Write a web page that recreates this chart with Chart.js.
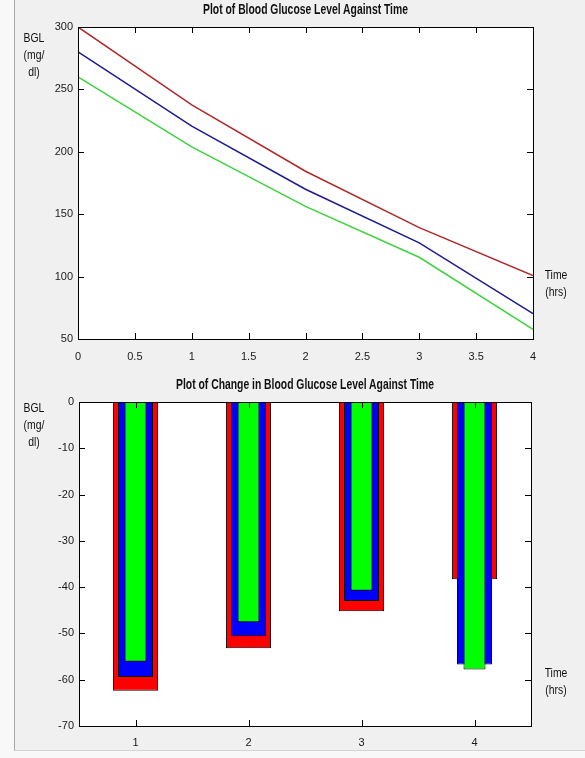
<!DOCTYPE html>
<html>
<head>
<meta charset="utf-8">
<script src="https://cdn.jsdelivr.net/npm/chart.js@4.4.1/dist/chart.umd.min.js"></script>
<style>
  body { margin: 0; background: #f8f8f8; width: 585px; height: 758px; overflow: hidden; }
  #frame { position: absolute; left: 14px; top: 0; width: 571px; height: 750px; background: #f0f0f0;
           border-left: 1px solid #a8a8a8; border-bottom: 1px solid #d4d4d4; }
  canvas { position: absolute; left: 0; }
  #top { top: 0; }
  #bottom { top: 370px; }
  .txt { position: absolute; font-family: 'Liberation Sans', Arial, sans-serif;
         font-size: 13px; color: #111; text-align: center; line-height: 17px;
         transform: scaleX(0.8); transform-origin: center; }
  .ttl { font-weight: bold; font-size: 14px; transform: scaleX(0.74); }
</style>
</head>
<body>
<div id="frame"></div>
<canvas id="top" width="585" height="370"></canvas>
<canvas id="bottom" width="585" height="388"></canvas>
<div class="txt ttl" style="left:78px;width:455px;top:1px;">Plot of Blood Glucose Level Against Time</div>
<div class="txt ttl" style="left:79px;width:452px;top:376px;">Plot of Change in Blood Glucose Level Against Time</div>
<div class="txt" style="left:18px;width:32px;top:29px;">BGL<br>(mg/<br>dl)</div>
<div class="txt" style="left:18px;width:32px;top:399px;">BGL<br>(mg/<br>dl)</div>
<div class="txt" style="left:539px;width:34px;top:266px;">Time<br>(hrs)</div>
<div class="txt" style="left:539px;width:34px;top:664px;">Time<br>(hrs)</div>
<script>
'use strict';

// top plot - blood glucose level over time
var timeHrs = [0, 1, 2, 3, 4];
var bglRed = [300, 237.6, 184.4, 139.2, 100.9];
var bglBlue = [280, 220.6, 170, 127, 70.3];
var bglGreen = [260, 203.9, 156.3, 115.5, 57.7];

// bottom plot - change in glucose level per hour
var hourLabels = ['1', '2', '3', '4'];
var changeRed = [-62.4, -53.2, -45.2, -38.3];
var changeBlue = [-59.4, -50.6, -43.0, -56.7];
var changeGreen = [-56.1, -47.6, -40.8, -57.8];

var tickFont = { family: "'Liberation Sans', Arial, sans-serif", size: 11 };

function points(ys) {
  var out = [];
  for (var i = 0; i < timeHrs.length; i++) {
    out.push({ x: timeHrs[i], y: ys[i] });
  }
  return out;
}

// white plot area, black box and inward ticks like matlab
var matlabAxes = {
  id: 'matlabAxes',
  beforeDatasetsDraw: function(chart) {
    var a = chart.chartArea;
    var ctx = chart.ctx;
    ctx.save();
    ctx.fillStyle = '#fff';
    ctx.fillRect(a.left, a.top, a.right - a.left, a.bottom - a.top);
    ctx.restore();
  },
  afterDraw: function(chart) {
    var a = chart.chartArea;
    var ctx = chart.ctx;
    var len = 6;
    ctx.save();
    ctx.strokeStyle = '#000';
    ctx.lineWidth = 1;
    ctx.beginPath();
    chart.scales.x.ticks.forEach(function(t, i) {
      var px = Math.round(chart.scales.x.getPixelForTick(i)) + 0.5;
      ctx.moveTo(px, a.bottom); ctx.lineTo(px, a.bottom - len);
      ctx.moveTo(px, a.top); ctx.lineTo(px, a.top + len);
    });
    chart.scales.y.ticks.forEach(function(t, i) {
      var py = Math.round(chart.scales.y.getPixelForTick(i)) + 0.5;
      ctx.moveTo(a.left, py); ctx.lineTo(a.left + len, py);
      ctx.moveTo(a.right, py); ctx.lineTo(a.right - len, py);
    });
    ctx.stroke();
    ctx.strokeRect(Math.round(a.left) + 0.5, Math.round(a.top) + 0.5,
      Math.round(a.right - a.left), Math.round(a.bottom - a.top));
    ctx.restore();
  }
};

var lineCtx = document.getElementById('top').getContext('2d');
var lineChart = new Chart(lineCtx, {
  type: 'line',
  data: {
    datasets: [
      { data: points(bglRed), borderColor: '#b02828', borderWidth: 1.5, pointRadius: 0, tension: 0 },
      { data: points(bglBlue), borderColor: '#1c1c90', borderWidth: 1.5, pointRadius: 0, tension: 0 },
      { data: points(bglGreen), borderColor: '#3ed23e', borderWidth: 1.5, pointRadius: 0, tension: 0 }
    ]
  },
  options: {
    responsive: false,
    animation: false,
    layout: { padding: { top: 27, right: 52, left: 0, bottom: 0 } },
    plugins: { legend: { display: false }, tooltip: { enabled: false } },
    scales: {
      x: {
        type: 'linear', min: 0, max: 4,
        afterFit: function(s) { s.height = 31; },
        grid: { display: false, drawTicks: false },
        border: { display: false },
        ticks: { stepSize: 0.5, padding: 11, color: '#1a1a1a', font: tickFont, maxRotation: 0,
          callback: function(v) { return String(+v.toFixed(1)); } }
      },
      y: {
        min: 50, max: 300,
        afterFit: function(s) { s.width = 78; },
        grid: { display: false, drawTicks: false },
        border: { display: false },
        ticks: { stepSize: 50, padding: 5, color: '#1a1a1a', font: tickFont }
      }
    }
  },
  plugins: [matlabAxes]
});

var barCtx = document.getElementById('bottom').getContext('2d');
var barChart = new Chart(barCtx, {
  type: 'bar',
  data: {
    labels: hourLabels,
    datasets: [
      { data: changeRed, backgroundColor: '#ff0000', borderColor: '#000', borderWidth: 1, borderSkipped: false,
        grouped: false, categoryPercentage: 1, barPercentage: 0.4, order: 3 },
      { data: changeBlue, backgroundColor: '#0000ff', borderColor: '#000', borderWidth: 1, borderSkipped: false,
        grouped: false, categoryPercentage: 1, barPercentage: 0.31, order: 2 },
      { data: changeGreen, backgroundColor: '#00ff00', borderColor: '#000', borderWidth: 1, borderSkipped: false,
        grouped: false, categoryPercentage: 1, barPercentage: 0.195, order: 1 }
    ]
  },
  options: {
    responsive: false,
    animation: false,
    layout: { padding: { top: 32, right: 54, left: 0, bottom: 0 } },
    plugins: { legend: { display: false }, tooltip: { enabled: false } },
    scales: {
      x: {
        afterFit: function(s) { s.height = 32; },
        grid: { display: false, drawTicks: false },
        border: { display: false },
        ticks: { padding: 10, color: '#1a1a1a', font: tickFont }
      },
      y: {
        min: -70, max: 0,
        afterFit: function(s) { s.width = 79; },
        grid: { display: false, drawTicks: false },
        border: { display: false },
        ticks: { stepSize: 10, padding: 5, color: '#1a1a1a', font: tickFont }
      }
    }
  },
  plugins: [matlabAxes]
});
</script>
</body>
</html>
